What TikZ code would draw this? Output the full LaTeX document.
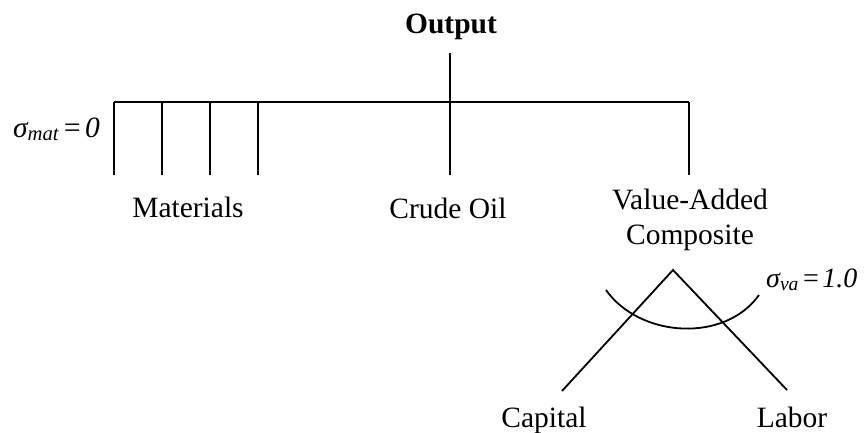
\documentclass[tikz,border=0pt]{standalone}
\usepackage{fontspec}
\setmainfont{Liberation Serif}
\begin{document}
\begin{tikzpicture}[x=1pt,y=-1pt,
  line/.style={draw=black,line width=1.8pt},
  lbl/.style={inner sep=0pt,anchor=base,font=\fontsize{29.5}{34}\selectfont},
  sig/.style={inner sep=0pt,anchor=base west,font=\fontsize{29.5}{34}\selectfont\itshape}]
\useasboundingbox (0,0) rectangle (865,432);
% labels
\node[lbl,font=\fontsize{29.5}{34}\selectfont\bfseries] (out) at (451,33) {Output};
\node[lbl] (mat) at (188,217) {Materials};
\node[lbl] (oil) at (448,218) {Crude Oil};
\node[lbl] (va1) at (690,209) {Value-Added};
\node[lbl] (va2) at (690,244) {Composite};
\node[lbl] (cap) at (544,427) {Capital};
\node[lbl] (lab) at (792,427) {Labor};
\node[sig] (smat) at (13,137) {σ\textsubscript{mat}\hspace{0.1em}=\hspace{0.1em}0};
\node[sig,font=\fontsize{28}{32}\selectfont\itshape] (sva) at (766,287) {σ\textsubscript{va}\hspace{0.08em}=\hspace{0.08em}1.0};
% junction coordinates
\coordinate (top) at (450,53);
\coordinate (hl) at (114,102);
\coordinate (hr) at (689,102);
\coordinate (m1t) at (162,102);
\coordinate (m2t) at (210,102);
\coordinate (m3t) at (258,102);
\coordinate (cot) at (450,102);
\coordinate (m0b) at (114,175);
\coordinate (m1b) at (162,175);
\coordinate (m2b) at (210,175);
\coordinate (m3b) at (258,175);
\coordinate (cob) at (450,175);
\coordinate (vab) at (689,175);
\coordinate (apex) at (673,270);
\coordinate (kend) at (562,391);
\coordinate (lend) at (787,390);
\coordinate (arcl) at (606,290);
\coordinate (arcr) at (759,295);
% tree
\draw[line] (top) -- (cob);
\draw[line] (hl) -- (hr);
\draw[line] (hl) -- (m0b);
\draw[line] (m1t) -- (m1b);
\draw[line] (m2t) -- (m2b);
\draw[line] (m3t) -- (m3b);
\draw[line] (hr) -- (vab);
% value-added nest
\draw[line] (kend) -- (apex) -- (lend);
\draw[line] (arcl) .. controls (640,338) and (725,343) .. (arcr);
\end{tikzpicture}
\end{document}
